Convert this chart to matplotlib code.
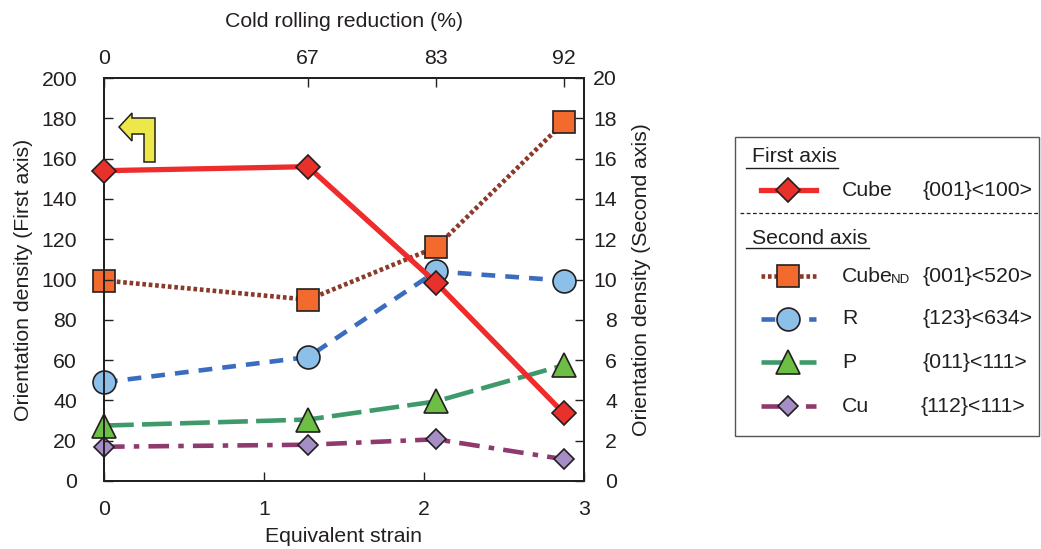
import matplotlib
matplotlib.use("Agg")
import matplotlib.pyplot as plt
from matplotlib.patches import Polygon, Rectangle
from matplotlib.lines import Line2D

plt.rcParams['font.family'] = ['Liberation Sans', 'DejaVu Sans']

# ---- data ----
strain = [0.0, 1.275, 2.075, 2.875]
reduction_labels = ['0', '67', '83', '92']
cube = [154, 156, 98.5, 33.5]          # first axis
cube_nd = [9.95, 9.0, 11.6, 17.8]      # second axis
r_comp = [4.9, 6.15, 10.4, 9.95]
p_comp = [2.75, 3.05, 3.95, 5.75]
cu_comp = [1.7, 1.8, 2.07, 1.08]

W, H = 1041, 549
fig = plt.figure(figsize=(W / 100, H / 100), dpi=100)
FS = 15.3
TXT = '#231f20'
LW = 3.3

STY = {
    'cube': dict(color='#ee2c2c', linestyle='-', marker='D', ms=12.5, mfc='#e8312a', lw=3.8),
    'cube_nd': dict(color='#8b3a2a', linestyle=(0, (0.8, 0.6)), marker='s', ms=16, mfc='#f26a2e', lw=LW),
    'r': dict(color='#3a6cbf', linestyle=(0, (3, 2.2)), marker='o', ms=16.5, mfc='#8dc0e8', lw=LW),
    'p': dict(color='#3e9a6a', linestyle=(0, (6.5, 1.8)), marker='^', ms=17, mfc='#6cbe45', lw=LW),
    'cu': dict(color='#8e3a6e', linestyle=(0, (4.5, 2, 1.2, 2)), marker='D', ms=10, mfc='#a58dc6', lw=LW),
}

def px(x, y):
    return x / W, 1 - y / H

L, R, T, B = 104, 584, 78, 481
ax = fig.add_axes([L / W, 1 - B / H, (R - L) / W, (B - T) / H])
ax2 = ax.twinx()
ax3 = ax.twiny()

def draw(a, xs, ys, st, z):
    a.plot(xs, ys, linestyle=st['linestyle'], color=st['color'], lw=st['lw'],
           marker=st['marker'], ms=st['ms'], mfc=st['mfc'], mec='#231f20',
           mew=1.2, clip_on=False, zorder=z)

draw(ax, strain, cube, STY['cube'], 5)
draw(ax2, strain, cube_nd, STY['cube_nd'], 3)
draw(ax2, strain, r_comp, STY['r'], 3)
draw(ax2, strain, p_comp, STY['p'], 3)
draw(ax2, strain, cu_comp, STY['cu'], 3)

ax.set_xlim(0, 3)
ax.set_ylim(0, 200)
ax2.set_ylim(0, 20)
ax3.set_xlim(0, 3)

ax.set_xticks([0, 1, 2, 3])
ax.set_yticks(range(0, 201, 20))
ax2.set_yticks(range(0, 21, 2))
ax3.set_xticks(strain)
ax3.set_xticklabels(reduction_labels)

TL = 6.5
ax.tick_params(axis='y', direction='in', length=TL, width=1, labelsize=FS, pad=19.4, colors=TXT)
ax.tick_params(axis='x', direction='in', length=TL, width=1, labelsize=FS, pad=13.5, colors=TXT)
ax2.tick_params(axis='y', direction='in', length=TL, width=1, labelsize=FS, pad=23.8, colors=TXT)
ax3.tick_params(axis='x', direction='in', length=TL, width=1, labelsize=FS, pad=7, colors=TXT)
for lab in ax2.get_yticklabels():
    lab.set_horizontalalignment('right')

for a in (ax, ax2, ax3):
    for s in a.spines.values():
        s.set_color('#231f20')
        s.set_linewidth(1.2)

ax.set_xlabel('Equivalent strain', fontsize=FS, color=TXT, labelpad=6)
ax.set_ylabel('Orientation density (First axis)', fontsize=FS, color=TXT, labelpad=6)
ax2.set_ylabel('Orientation density (Second axis)', fontsize=FS, color=TXT, labelpad=10.5)
ax3.set_xlabel('Cold rolling reduction (%)', fontsize=FS, color=TXT, labelpad=16)

ax.set_zorder(ax2.get_zorder() + 1)
ax.patch.set_visible(False)

# yellow arrow pointing left (first axis indicator)
arrow_px = [(119, 127), (132, 113), (132, 118), (155, 118), (155, 162),
            (144, 162), (144, 134), (132, 134), (132, 141)]
fig.patches.append(Polygon([px(x, y) for x, y in arrow_px], closed=True,
                           transform=fig.transFigure, facecolor='#ece84a',
                           edgecolor='#231f20', lw=1.1, zorder=10))

# ---- legend box (manual) ----
fig.patches.append(Rectangle(px(735, 436), (1039 - 735) / W, (436 - 137) / H,
                             transform=fig.transFigure, fill=False,
                             edgecolor='#555555', lw=1.0))

def ftext(x, y, s, **kw):
    fig.text(*px(x, y), s, fontsize=kw.pop('fontsize', FS), color=TXT, va='center', **kw)

def fline(x0, x1, y, **kw):
    fig.add_artist(Line2D([x0 / W, x1 / W], [1 - y / H, 1 - y / H],
                          transform=fig.transFigure, **kw))

ftext(752, 157, 'First axis')
fline(746, 838, 168, color=TXT, lw=1.0)
ftext(752, 239, 'Second axis')
fline(746, 869, 248, color=TXT, lw=1.0)
fline(740, 1039, 213, color=TXT, lw=0.9, linestyle=(0, (3, 2)))

rows = [
    (190, 'Cube', '{001}<100>', 'cube'),
    (276, 'Cube', '{001}<520>', 'cube_nd'),
    (319, 'R', '{123}<634>', 'r'),
    (362, 'P', '{011}<111>', 'p'),
    (406, 'Cu', '{112}<111>', 'cu'),
]
for y, name, idx, key in rows:
    st = STY[key]
    fline(761, 816, y, lw=st['lw'], color=st['color'], linestyle=st['linestyle'])
    fig.add_artist(Line2D([788 / W], [1 - y / H], transform=fig.transFigure,
                          marker=st['marker'], ms=st['ms'], mfc=st['mfc'],
                          mec='#231f20', mew=1.2, linestyle='none'))
    ftext(842, y, name)
    ftext(923 if name != 'Cu' else 921, y, idx)
fig.text(*px(891, 283), 'ND', fontsize=9.5, color=TXT, va='baseline')

fig.savefig('out.png', dpi=100)
